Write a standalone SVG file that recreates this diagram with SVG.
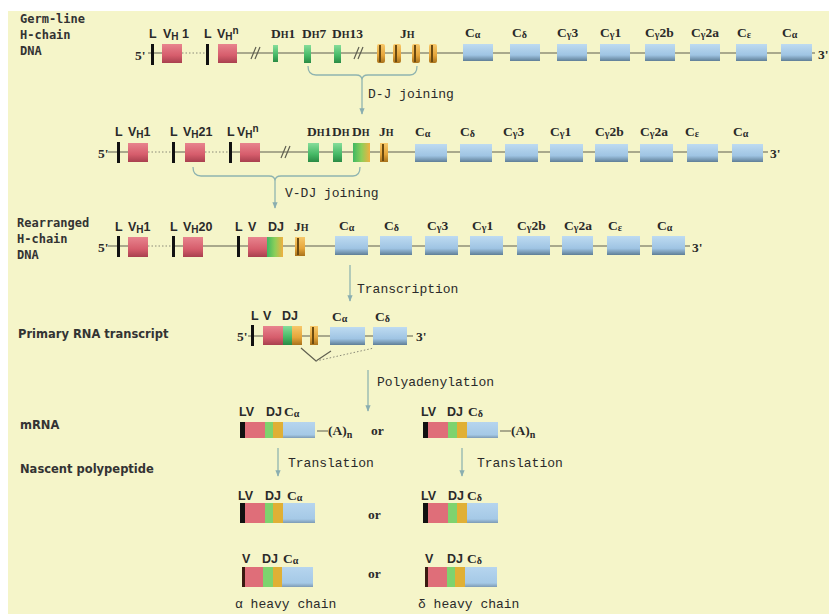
<svg xmlns="http://www.w3.org/2000/svg" width="829" height="614" viewBox="0 0 829 614">
<defs>
<linearGradient id="gPink" x1="0" y1="0" x2="0" y2="1"><stop offset="0" stop-color="#e8848e"/><stop offset="0.6" stop-color="#d65d6c"/><stop offset="1" stop-color="#a8404e"/></linearGradient>
<linearGradient id="gBlue" x1="0" y1="0" x2="0" y2="1"><stop offset="0" stop-color="#bedbf1"/><stop offset="0.65" stop-color="#9fc4e3"/><stop offset="1" stop-color="#5f7e96"/></linearGradient>
<linearGradient id="gGreen" x1="0" y1="0" x2="0" y2="1"><stop offset="0" stop-color="#86dd9a"/><stop offset="0.6" stop-color="#45b865"/><stop offset="1" stop-color="#2a8a44"/></linearGradient>
<linearGradient id="gOrange" x1="0" y1="0" x2="0" y2="1"><stop offset="0" stop-color="#f7c86a"/><stop offset="0.6" stop-color="#e5a53a"/><stop offset="1" stop-color="#a8721c"/></linearGradient>
<linearGradient id="gGO" x1="0" y1="0" x2="1" y2="0"><stop offset="0" stop-color="#3fb862"/><stop offset="0.5" stop-color="#8ccf5a"/><stop offset="1" stop-color="#f0b040"/></linearGradient>
<linearGradient id="fBlue" x1="0" y1="0" x2="0" y2="1"><stop offset="0" stop-color="#b6d5ee"/><stop offset="0.8" stop-color="#a5c9e6"/><stop offset="1" stop-color="#7d9bb4"/></linearGradient>
<marker id="ah" viewBox="0 0 10 10" refX="9" refY="5" markerWidth="5" markerHeight="5" orient="auto"><path d="M0,1 L10,5 L0,9 z" fill="#8aaeb0"/></marker>
</defs>
<style>
.ln{stroke:#5f5f50;stroke-width:1.2;fill:none}
.dt{stroke:#8a8a78;stroke-width:1;stroke-dasharray:1.5 2;fill:none}
.br{stroke:#8fb4b0;stroke-width:1.3;fill:none}
.ar{stroke:#8fb4b0;stroke-width:1.3;fill:none;marker-end:url(#ah)}
.k{fill:#111}
.pk{fill:url(#gPink)}
.bl{fill:url(#gBlue)}
.gr{fill:url(#gGreen)}
.or{fill:url(#gOrange)}
.go{fill:url(#gGO)}
.fpk{fill:#df6e79}
.fgr{fill:#7ed36e}
.for{fill:#e0b035}
.fbl{fill:url(#fBlue)}
.jd{stroke:#6b4a10;stroke-width:2}
.hd{font-family:"DejaVu Sans Mono",monospace;font-weight:bold;font-size:12px;fill:#333}
.hs{font-family:"DejaVu Sans",sans-serif;font-weight:bold;font-size:11.5px;fill:#333}
.g{font-family:"Liberation Serif",serif;font-weight:bold;font-size:13.5px;fill:#2a2a2a}
.gs{font-family:"Liberation Sans",sans-serif;font-weight:bold;font-size:12.5px;fill:#2a2a2a}
.s{font-size:10px}
.p{font-family:"Liberation Mono",monospace;font-size:13px;fill:#2a2a2a}
</style>
<rect x="0" y="0" width="829" height="614" fill="#ffffff"/>
<rect x="8" y="11" width="821" height="603" fill="#f5f5c9"/>

<g id="connectors">
<path class="ln" d="M148,53 H162 M237,53 H815"/>
<path class="dt" d="M182,53 H206"/>
<path class="ln" d="M251,59 L256,47 M255,59 L260,47 M354,59 L359,47 M358,59 L363,47"/>
<path class="br" d="M308,66 Q308,75 316,75 H356 Q362,75 362,80 Q362,75 368,75 H410 Q417,75 417,66"/>
<path class="ar" d="M362,80 V114"/>
<path class="ln" d="M108,152 H128 M175,152 H185 M232,152 H240 M260,152 H768"/>
<path class="dt" d="M148,152 H172 M205,152 H229"/>
<path class="ln" d="M281,158 L286,146 M285,158 L290,146"/>
<path class="br" d="M193,167 Q193,176 201,176 H269 Q275,176 275,181 Q275,176 281,176 H353 Q360,176 360,167"/>
<path class="ar" d="M275,181 V208"/>
<path class="ln" d="M108,246 H128 M175,246 H183 M203,246 H248 M283,246 H690"/>
<path class="dt" d="M148,246 H172"/>
<path class="ar" d="M350,265 V301"/>
<path class="ln" d="M248,336 H413"/>
<path class="ln" stroke-width="1" d="M301,348 L316,361 L331,351"/>
<path class="dt" stroke="#555" d="M316,361 L374,348"/>
<path class="ar" d="M368,370 V411"/>
<path class="ln" d="M317,431 H328 M500,431 H511"/>
<path class="ar" d="M278,448 V476"/>
<path class="ar" d="M462,448 V476"/>
</g>

<g id="row-labels">
<text class="hd" x="20" y="23">Germ-line</text>
<text class="hd" x="20" y="39">H-chain</text>
<text class="hd" x="20" y="55">DNA</text>
<text class="hd" x="17" y="227">Rearranged</text>
<text class="hd" x="17" y="243">H-chain</text>
<text class="hd" x="17" y="259">DNA</text>
<text class="hs" x="18" y="338">Primary RNA transcript</text>
<text class="hs" x="20" y="429">mRNA</text>
<text class="hs" x="20" y="473">Nascent polypeptide</text>
</g>
<g id="process-labels">
<text class="p" x="368" y="98">D-J joining</text>
<text class="p" x="285" y="197">V-DJ joining</text>
<text class="p" x="357" y="293">Transcription</text>
<text class="p" x="377" y="386">Polyadenylation</text>
<text class="p" x="288" y="467">Translation</text>
<text class="p" x="477" y="467">Translation</text>
</g>

<g id="row1">
<text class="g" x="135" y="60">5'</text>
<g id="r1-L1"><rect class="k" x="151" y="44" width="3" height="21"/><text class="gs" x="149" y="38">L</text></g>
<g id="r1-VH1"><rect class="pk" x="162" y="44" width="20" height="19"/><text class="gs" x="163" y="38">V<tspan class="s" dy="2">H</tspan><tspan dy="-2"> 1</tspan></text></g>
<g id="r1-L2"><rect class="k" x="206" y="44" width="3" height="21"/><text class="gs" x="204" y="38">L</text></g>
<g id="r1-VHn"><rect class="pk" x="218" y="44" width="19" height="19"/><text class="gs" x="217" y="38">V<tspan class="s" dy="2">H</tspan><tspan class="s" dy="-6">n</tspan></text></g>
<g id="r1-DH1"><rect class="gr" x="273" y="45" width="5" height="17"/><text class="g" x="271" y="38">D<tspan class="s">H</tspan>1</text></g>
<g id="r1-DH7"><rect class="gr" x="304" y="45" width="7" height="18"/><text class="g" x="302" y="38">D<tspan class="s">H</tspan>7</text></g>
<g id="r1-DH13"><rect class="gr" x="334" y="45" width="7" height="18"/><text class="g" x="332" y="38">D<tspan class="s">H</tspan>13</text></g>
<g id="r1-JH">
<rect class="or" x="377" y="44" width="8" height="19" rx="2"/><path class="jd" d="M380,45 V62"/>
<rect class="or" x="393" y="44" width="8" height="19" rx="2"/><path class="jd" d="M396,45 V62"/>
<rect class="or" x="412" y="44" width="8" height="19" rx="2"/><path class="jd" d="M415,45 V62"/>
<rect class="or" x="429" y="44" width="8" height="19" rx="2"/><path class="jd" d="M432,45 V62"/>
<text class="g" x="400" y="38">J<tspan class="s">H</tspan></text>
</g>
<g id="r1-Cmu"><rect class="bl" x="463" y="44" width="30" height="17"/><text class="g" x="465" y="37">C<tspan class="s" dy="1">α</tspan></text></g>
<g id="r1-Cd"><rect class="bl" x="510" y="44" width="30" height="17"/><text class="g" x="512" y="37">C<tspan class="s" dy="1">δ</tspan></text></g>
<g id="r1-Cg3"><rect class="bl" x="557" y="44" width="30" height="17"/><text class="g" x="557" y="37">C<tspan class="s" dy="1">γ</tspan><tspan dy="-1">3</tspan></text></g>
<g id="r1-Cg1"><rect class="bl" x="600" y="44" width="30" height="17"/><text class="g" x="600" y="37">C<tspan class="s" dy="1">γ</tspan><tspan dy="-1">1</tspan></text></g>
<g id="r1-Cg2b"><rect class="bl" x="645" y="44" width="30" height="17"/><text class="g" x="645" y="37">C<tspan class="s" dy="1">γ</tspan><tspan dy="-1">2b</tspan></text></g>
<g id="r1-Cg2a"><rect class="bl" x="690" y="44" width="30" height="17"/><text class="g" x="691" y="37">C<tspan class="s" dy="1">γ</tspan><tspan dy="-1">2a</tspan></text></g>
<g id="r1-Ce"><rect class="bl" x="736" y="44" width="31" height="17"/><text class="g" x="737" y="37">C<tspan class="s" dy="1">ε</tspan></text></g>
<g id="r1-Ca"><rect class="bl" x="781" y="44" width="31" height="17"/><text class="g" x="782" y="37">C<tspan class="s" dy="1">α</tspan></text></g>
<text class="g" x="818" y="59">3'</text>
</g>

<g id="row2">
<text class="g" x="98" y="158">5'</text>
<g id="r2-L1"><rect class="k" x="117" y="142" width="3" height="21"/><text class="gs" x="115" y="136">L</text></g>
<g id="r2-VH1"><rect class="pk" x="128" y="143" width="20" height="19"/><text class="gs" x="128" y="136">V<tspan class="s" dy="2">H</tspan><tspan dy="-2">1</tspan></text></g>
<g id="r2-L2"><rect class="k" x="172" y="142" width="3" height="21"/><text class="gs" x="170" y="136">L</text></g>
<g id="r2-VH21"><rect class="pk" x="185" y="143" width="20" height="19"/><text class="gs" x="183" y="136">V<tspan class="s" dy="2">H</tspan><tspan dy="-2">21</tspan></text></g>
<g id="r2-L3"><rect class="k" x="229" y="142" width="3" height="21"/><text class="gs" x="227" y="136">L</text></g>
<g id="r2-VHn"><rect class="pk" x="240" y="143" width="20" height="19"/><text class="gs" x="237" y="136">V<tspan class="s" dy="2">H</tspan><tspan class="s" dy="-6">n</tspan></text></g>
<g id="r2-DH1"><rect class="gr" x="308" y="143" width="11" height="19"/><text class="g" x="307" y="136">D<tspan class="s">H</tspan>1</text></g>
<g id="r2-DH"><rect class="gr" x="333" y="143" width="9" height="19"/><text class="g" x="332" y="136">D<tspan class="s">H</tspan></text></g>
<g id="r2-DHJH"><rect class="go" x="353" y="143" width="17" height="19"/><text class="g" x="352" y="136">D<tspan class="s">H</tspan></text></g>
<g id="r2-JH"><rect class="or" x="380" y="143" width="8" height="19"/><path class="jd" d="M383,144 V161"/><text class="g" x="379" y="136">J<tspan class="s">H</tspan></text></g>
<g id="r2-Cmu"><rect class="bl" x="415" y="144" width="32" height="18"/><text class="g" x="415" y="136">C<tspan class="s" dy="1">α</tspan></text></g>
<g id="r2-Cd"><rect class="bl" x="460" y="144" width="32" height="18"/><text class="g" x="460" y="136">C<tspan class="s" dy="1">δ</tspan></text></g>
<g id="r2-Cg3"><rect class="bl" x="505" y="144" width="33" height="18"/><text class="g" x="503" y="136">C<tspan class="s" dy="1">γ</tspan><tspan dy="-1">3</tspan></text></g>
<g id="r2-Cg1"><rect class="bl" x="550" y="144" width="33" height="18"/><text class="g" x="550" y="136">C<tspan class="s" dy="1">γ</tspan><tspan dy="-1">1</tspan></text></g>
<g id="r2-Cg2b"><rect class="bl" x="595" y="144" width="33" height="18"/><text class="g" x="595" y="136">C<tspan class="s" dy="1">γ</tspan><tspan dy="-1">2b</tspan></text></g>
<g id="r2-Cg2a"><rect class="bl" x="640" y="144" width="33" height="18"/><text class="g" x="640" y="136">C<tspan class="s" dy="1">γ</tspan><tspan dy="-1">2a</tspan></text></g>
<g id="r2-Ce"><rect class="bl" x="687" y="144" width="31" height="18"/><text class="g" x="685" y="136">C<tspan class="s" dy="1">ε</tspan></text></g>
<g id="r2-Ca"><rect class="bl" x="732" y="144" width="31" height="18"/><text class="g" x="733" y="136">C<tspan class="s" dy="1">α</tspan></text></g>
<text class="g" x="770" y="158">3'</text>
</g>

<g id="row3">
<text class="g" x="98" y="252">5'</text>
<g id="r3-L1"><rect class="k" x="117" y="236" width="3" height="21"/><text class="gs" x="115" y="231">L</text></g>
<g id="r3-VH1"><rect class="pk" x="128" y="237" width="20" height="20"/><text class="gs" x="128" y="231">V<tspan class="s" dy="2">H</tspan><tspan dy="-2">1</tspan></text></g>
<g id="r3-L2"><rect class="k" x="172" y="236" width="3" height="21"/><text class="gs" x="170" y="231">L</text></g>
<g id="r3-VH20"><rect class="pk" x="183" y="237" width="20" height="20"/><text class="gs" x="183" y="231">V<tspan class="s" dy="2">H</tspan><tspan dy="-2">20</tspan></text></g>
<g id="r3-L3"><rect class="k" x="237" y="236" width="3" height="21"/><text class="gs" x="235" y="231">L</text></g>
<g id="r3-VDJ"><rect class="pk" x="248" y="237" width="19" height="20"/><rect class="go" x="267" y="237" width="16" height="20"/><text class="gs" x="248" y="231">V</text><text class="gs" x="268" y="231">DJ</text></g>
<g id="r3-JH"><rect class="or" x="295" y="237" width="10" height="19"/><path class="jd" d="M298,238 V255"/><text class="g" x="294" y="231">J<tspan class="s">H</tspan></text></g>
<g id="r3-Cmu"><rect class="bl" x="335" y="236" width="33" height="19"/><text class="g" x="339" y="230">C<tspan class="s" dy="1">α</tspan></text></g>
<g id="r3-Cd"><rect class="bl" x="380" y="236" width="32" height="19"/><text class="g" x="384" y="230">C<tspan class="s" dy="1">δ</tspan></text></g>
<g id="r3-Cg3"><rect class="bl" x="425" y="236" width="33" height="19"/><text class="g" x="427" y="230">C<tspan class="s" dy="1">γ</tspan><tspan dy="-1">3</tspan></text></g>
<g id="r3-Cg1"><rect class="bl" x="470" y="236" width="33" height="19"/><text class="g" x="472" y="230">C<tspan class="s" dy="1">γ</tspan><tspan dy="-1">1</tspan></text></g>
<g id="r3-Cg2b"><rect class="bl" x="517" y="236" width="33" height="19"/><text class="g" x="517" y="230">C<tspan class="s" dy="1">γ</tspan><tspan dy="-1">2b</tspan></text></g>
<g id="r3-Cg2a"><rect class="bl" x="562" y="236" width="31" height="19"/><text class="g" x="564" y="230">C<tspan class="s" dy="1">γ</tspan><tspan dy="-1">2a</tspan></text></g>
<g id="r3-Ce"><rect class="bl" x="607" y="236" width="33" height="19"/><text class="g" x="608" y="230">C<tspan class="s" dy="1">ε</tspan></text></g>
<g id="r3-Ca"><rect class="bl" x="652" y="236" width="33" height="19"/><text class="g" x="657" y="230">C<tspan class="s" dy="1">α</tspan></text></g>
<text class="g" x="692" y="252">3'</text>
</g>

<g id="row4">
<text class="g" x="237" y="341">5'</text>
<g id="r4-L"><rect class="k" x="251" y="325" width="3" height="21"/><text class="gs" x="251" y="320">L</text></g>
<g id="r4-VDJ"><rect class="pk" x="263" y="326" width="20" height="19"/><rect class="gr" x="283" y="326" width="9" height="19"/><rect class="or" x="292" y="326" width="10" height="19"/><text class="gs" x="263" y="320">V</text><text class="gs" x="282" y="320">DJ</text></g>
<g id="r4-J"><rect class="or" x="310" y="326" width="8" height="19"/><path class="jd" d="M313,327 V344"/></g>
<g id="r4-Cmu"><rect class="bl" x="330" y="327" width="35" height="18"/><text class="g" x="332" y="321">C<tspan class="s" dy="1">α</tspan></text></g>
<g id="r4-Cd"><rect class="bl" x="373" y="327" width="34" height="18"/><text class="g" x="375" y="321">C<tspan class="s" dy="1">δ</tspan></text></g>
<text class="g" x="416" y="341">3'</text>
</g>

<g id="mRNA-mu">
<rect class="k" x="240" y="422" width="5" height="16"/><rect class="fpk" x="245" y="422" width="20" height="16"/><rect class="fgr" x="265" y="422" width="8" height="16"/><rect class="for" x="273" y="422" width="10" height="16"/><rect class="fbl" x="283" y="422" width="32" height="16"/>
<text class="gs" x="239" y="416">LV</text><text class="gs" x="266" y="416">DJ</text><text class="g" x="284" y="416">C<tspan class="s" dy="1">α</tspan></text>
<text class="g" x="328" y="435">(A)<tspan class="s" dy="3">n</tspan></text>
</g>
<text class="g" x="371" y="435">or</text>
<g id="mRNA-delta">
<rect class="k" x="423" y="422" width="5" height="16"/><rect class="fpk" x="428" y="422" width="20" height="16"/><rect class="fgr" x="448" y="422" width="9" height="16"/><rect class="for" x="457" y="422" width="10" height="16"/><rect class="fbl" x="467" y="422" width="31" height="16"/>
<text class="gs" x="421" y="416">LV</text><text class="gs" x="447" y="416">DJ</text><text class="g" x="468" y="416">C<tspan class="s" dy="1">δ</tspan></text>
<text class="g" x="511" y="435">(A)<tspan class="s" dy="3">n</tspan></text>
</g>

<g id="nascent-mu">
<rect class="k" x="240" y="503" width="5" height="20"/><rect class="fpk" x="245" y="503" width="20" height="20"/><rect class="fgr" x="265" y="503" width="8" height="20"/><rect class="for" x="273" y="503" width="10" height="20"/><rect class="fbl" x="283" y="503" width="32" height="20"/>
<text class="gs" x="238" y="500">LV</text><text class="gs" x="265" y="500">DJ</text><text class="g" x="287" y="500">C<tspan class="s" dy="1">α</tspan></text>
</g>
<text class="g" x="368" y="519">or</text>
<g id="nascent-delta">
<rect class="k" x="423" y="503" width="5" height="20"/><rect class="fpk" x="428" y="503" width="20" height="20"/><rect class="fgr" x="448" y="503" width="9" height="20"/><rect class="for" x="457" y="503" width="10" height="20"/><rect class="fbl" x="467" y="503" width="31" height="20"/>
<text class="gs" x="421" y="500">LV</text><text class="gs" x="448" y="500">DJ</text><text class="g" x="467" y="500">C<tspan class="s" dy="1">δ</tspan></text>
</g>

<g id="chain-mu">
<rect fill="#3a1a10" x="242" y="567" width="3" height="20"/><rect class="fpk" x="245" y="567" width="18" height="20"/><rect class="fgr" x="263" y="567" width="10" height="20"/><rect class="for" x="273" y="567" width="9" height="20"/><rect class="fbl" x="282" y="567" width="31" height="20"/>
<text class="gs" x="242" y="563">V</text><text class="gs" x="262" y="563">DJ</text><text class="g" x="283" y="563">C<tspan class="s" dy="1">α</tspan></text>
<text class="p" x="235" y="608">α heavy chain</text>
</g>
<text class="g" x="368" y="578">or</text>
<g id="chain-delta">
<rect fill="#3a1a10" x="425" y="567" width="3" height="20"/><rect class="fpk" x="428" y="567" width="19" height="20"/><rect class="fgr" x="447" y="567" width="8" height="20"/><rect class="for" x="455" y="567" width="10" height="20"/><rect class="fbl" x="465" y="567" width="32" height="20"/>
<text class="gs" x="425" y="563">V</text><text class="gs" x="447" y="563">DJ</text><text class="g" x="467" y="563">C<tspan class="s" dy="1">δ</tspan></text>
<text class="p" x="418" y="608">δ heavy chain</text>
</g>
</svg>
